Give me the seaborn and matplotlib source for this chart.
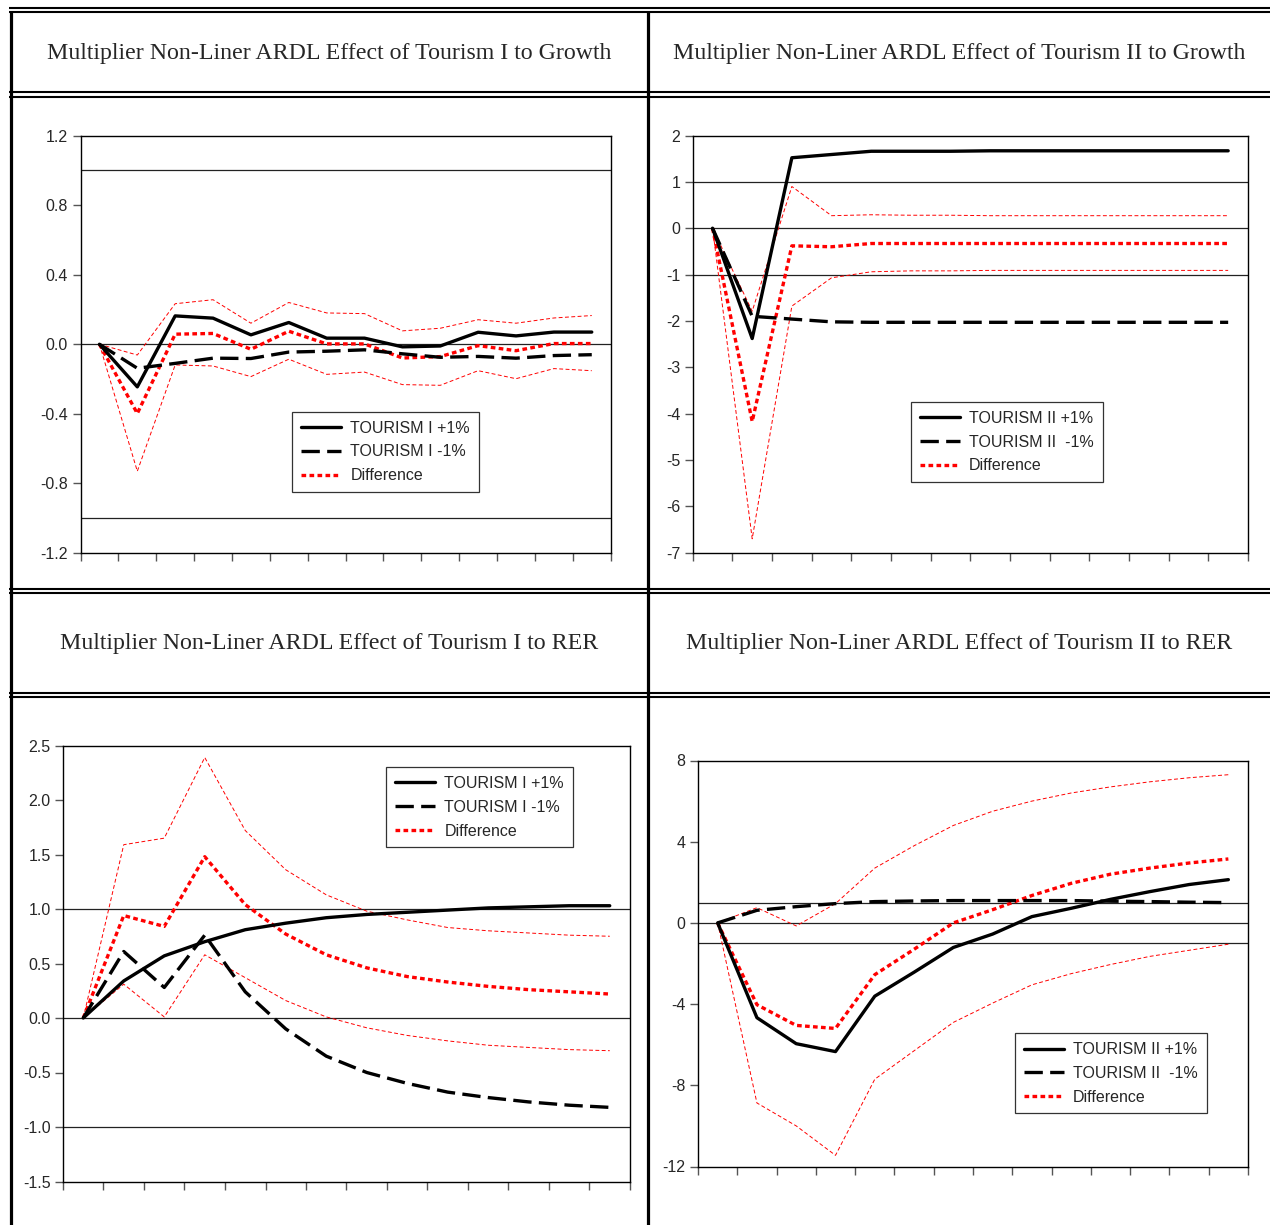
import numpy as np
import pandas as pd
import matplotlib
matplotlib.use("Agg")
import matplotlib.pyplot as plt
from matplotlib.lines import Line2D
import seaborn as sns

periods = list(range(1, 15))

# Tourism I -> Growth
g1_pos = [0, -0.245, 0.163, 0.150, 0.054, 0.125, 0.035, 0.035, -0.015, -0.010, 0.069, 0.048, 0.070, 0.070]
g1_neg = [0, -0.138, -0.110, -0.080, -0.082, -0.045, -0.040, -0.032, -0.055, -0.075, -0.070, -0.080, -0.065, -0.060]
g1_diff = [0, -0.398, 0.058, 0.062, -0.029, 0.075, 0.002, 0.002, -0.079, -0.071, -0.008, -0.037, 0.004, 0.004]
g1_up = [0, -0.062, 0.233, 0.256, 0.121, 0.240, 0.180, 0.176, 0.077, 0.092, 0.141, 0.121, 0.151, 0.165]
g1_lo = [0, -0.730, -0.119, -0.125, -0.186, -0.086, -0.173, -0.160, -0.232, -0.236, -0.152, -0.198, -0.140, -0.152]

# Tourism II -> Growth
g2_pos = [0, -2.38, 1.52, 1.59, 1.66, 1.66, 1.66, 1.67, 1.67, 1.67, 1.67, 1.67, 1.67, 1.67]
g2_neg = [0, -1.90, -1.96, -2.02, -2.03, -2.03, -2.03, -2.03, -2.03, -2.03, -2.03, -2.03, -2.03, -2.03]
g2_diff = [0, -4.17, -0.38, -0.40, -0.33, -0.33, -0.33, -0.33, -0.33, -0.33, -0.33, -0.33, -0.33, -0.33]
g2_up = [0, -1.79, 0.90, 0.27, 0.29, 0.28, 0.28, 0.27, 0.27, 0.27, 0.27, 0.27, 0.27, 0.27]
g2_lo = [0, -6.70, -1.68, -1.07, -0.94, -0.92, -0.92, -0.91, -0.91, -0.91, -0.91, -0.91, -0.91, -0.91]

# Tourism I -> RER
r1_pos = [0, 0.34, 0.57, 0.70, 0.81, 0.87, 0.92, 0.95, 0.97, 0.99, 1.01, 1.02, 1.03, 1.03]
r1_neg = [0, 0.61, 0.28, 0.76, 0.24, -0.10, -0.35, -0.50, -0.60, -0.68, -0.73, -0.77, -0.80, -0.82]
r1_diff = [0, 0.94, 0.84, 1.48, 1.04, 0.77, 0.58, 0.46, 0.38, 0.33, 0.29, 0.26, 0.24, 0.22]
r1_up = [0, 1.59, 1.65, 2.39, 1.72, 1.36, 1.13, 0.98, 0.90, 0.83, 0.80, 0.78, 0.76, 0.75]
r1_lo = [0, 0.31, 0.01, 0.58, 0.37, 0.16, 0.01, -0.09, -0.16, -0.21, -0.25, -0.27, -0.29, -0.30]

# Tourism II -> RER
r2_pos = [0, -4.67, -5.95, -6.34, -3.61, -2.43, -1.21, -0.55, 0.31, 0.72, 1.16, 1.54, 1.89, 2.13]
r2_neg = [0, 0.62, 0.80, 0.95, 1.05, 1.08, 1.10, 1.10, 1.10, 1.10, 1.07, 1.05, 1.02, 1.00]
r2_diff = [0, -4.03, -5.05, -5.20, -2.55, -1.30, 0.00, 0.65, 1.35, 1.95, 2.40, 2.70, 2.95, 3.15]
r2_up = [0, 0.75, -0.15, 0.95, 2.70, 3.80, 4.80, 5.50, 6.00, 6.40, 6.70, 6.95, 7.15, 7.30]
r2_lo = [0, -8.87, -10.00, -11.45, -7.70, -6.30, -4.90, -3.95, -3.05, -2.50, -2.05, -1.65, -1.35, -1.05]

titles = [
    "Multiplier Non-Liner ARDL Effect of Tourism I to Growth",
    "Multiplier Non-Liner ARDL Effect of Tourism II to Growth",
    "Multiplier Non-Liner ARDL Effect of Tourism I to RER",
    "Multiplier Non-Liner ARDL Effect of Tourism II to RER",
]
labels_1 = ["TOURISM I +1%", "TOURISM I -1%", "Difference"]
labels_2 = ["TOURISM II +1%", "TOURISM II  -1%", "Difference"]

g1_ticks = [-1.2, -0.8, -0.4, 0.0, 0.4, 0.8, 1.2]
g2_ticks = [-7, -6, -5, -4, -3, -2, -1, 0, 1, 2]
r1_ticks = [-1.5, -1.0, -0.5, 0.0, 0.5, 1.0, 1.5, 2.0, 2.5]
r2_ticks = [-12, -8, -4, 0, 4, 8]
ref_levels = [-1, 0, 1]

sns.set_style("white")
plt.rcParams["font.family"] = ["Liberation Sans", "DejaVu Sans"]
plt.rcParams["axes.unicode_minus"] = False

W, H = 1270, 1225
fig = plt.figure(figsize=(W / 100, H / 100), dpi=100)

# table grid behind the charts
frame = fig.add_axes([0, 0, 1, 1], zorder=-1)
frame.set_xlim(0, W)
frame.set_ylim(H, 0)
frame.axis("off")
for y in [7.5, 12, 92, 97, 589, 593, 692.5, 696.5]:
    frame.plot([9, W], [y, y], color="black", lw=1.5, solid_capstyle="butt")
for x in [10.5, 647.5]:
    frame.plot([x, x], [12, H], color="black", lw=2.3, solid_capstyle="butt")

title_pos = [(329, 53), (959, 53), (329, 643), (959, 643)]
for (tx, ty), t in zip(title_pos, titles):
    frame.text(tx, ty, t, ha="center", va="center", fontsize=17.2,
               family=["Liberation Serif", "DejaVu Serif"])

STY = {
    "pos": dict(color="black", lw=2.4, ls="-"),
    "neg": dict(color="black", lw=2.4, ls=(0, (5.5, 2.2))),
    "diff": dict(color="#ff0000", lw=2.4, ls=(0, (1.4, 1.0))),
    "band": dict(color="#ff0000", lw=0.7, ls=(0, (4, 2.5))),
}


def draw_panel(box, pos, neg, diff, up, lo, ticks, fmt, labels, leg_xy):
    l, t, r, b = box
    ax = fig.add_axes([l / W, 1 - b / H, (r - l) / W, (b - t) / H])
    for lv in ref_levels:
        ax.axhline(lv, color="#222222", lw=0.9, zorder=1)
    for vals, key in [(up, "band"), (lo, "band"), (diff, "diff"), (neg, "neg"), (pos, "pos")]:
        sns.lineplot(x=periods, y=vals, ax=ax, zorder=3, **STY[key])
    ax.set_xlim(periods[0] - 0.5, periods[-1] + 0.5)
    ax.set_xticks([p - 0.5 for p in periods] + [periods[-1] + 0.5])
    ax.set_xticklabels([])
    ax.set_ylim(ticks[0], ticks[-1])
    ax.set_yticks(ticks)
    ax.set_yticklabels([fmt.format(v) for v in ticks], fontsize=11.5)
    ax.tick_params(axis="both", direction="out", length=6, width=1,
                   color="#555555", left=True, bottom=True, pad=3)
    for s in ax.spines.values():
        s.set_color("black")
        s.set_linewidth(1)
    ax.set_xlabel("")
    ax.set_ylabel("")
    handles = [Line2D([], [], **STY["pos"]), Line2D([], [], **STY["neg"]),
               Line2D([], [], **STY["diff"])]
    leg = ax.legend(handles, labels, loc="upper left", bbox_to_anchor=leg_xy,
                    borderaxespad=0, frameon=True, fancybox=False, framealpha=1,
                    edgecolor="#333333", fontsize=11.5, handlelength=2.5,
                    handletextpad=0.6, labelspacing=0.55, borderpad=0.55)
    leg.get_frame().set_linewidth(0.9)
    return ax


draw_panel((80.5, 135.5, 610.7, 553), g1_pos, g1_neg, g1_diff, g1_up, g1_lo,
           g1_ticks, "{:.1f}", labels_1, (0.399, 0.338))
draw_panel((692.7, 135.5, 1248, 552.7), g2_pos, g2_neg, g2_diff, g2_up, g2_lo,
           g2_ticks, "{:.0f}", labels_2, (0.393, 0.361))
draw_panel((63, 745.5, 630, 1181.5), r1_pos, r1_neg, r1_diff, r1_up, r1_lo,
           r1_ticks, "{:.1f}", labels_1, (0.57, 0.95))
draw_panel((698, 760.5, 1248, 1166.5), r2_pos, r2_neg, r2_diff, r2_up, r2_lo,
           r2_ticks, "{:.0f}", labels_2, (0.576, 0.328))

fig.savefig("out.png", dpi=100)
